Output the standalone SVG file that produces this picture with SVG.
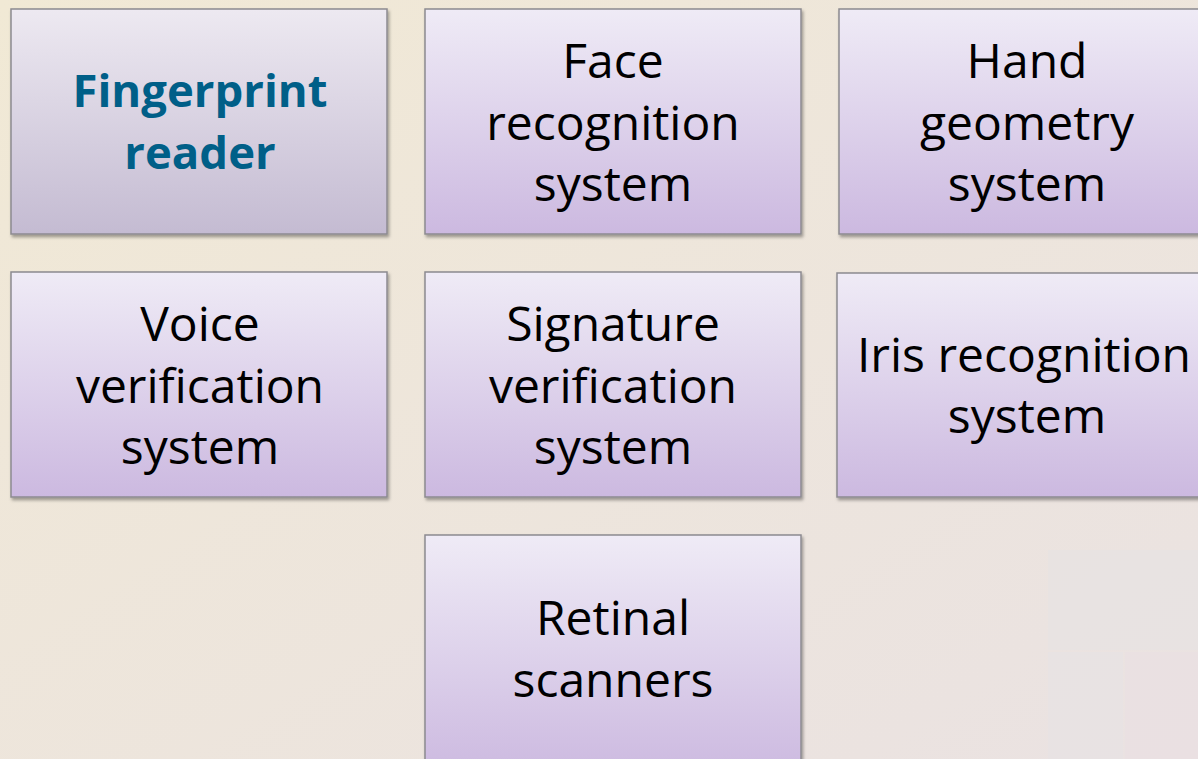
<svg xmlns="http://www.w3.org/2000/svg" width="1198" height="759" viewBox="0 0 1198 759">
<defs>
<linearGradient id="bg" x1="0" y1="0" x2="1" y2="1">
<stop offset="0" stop-color="#F1E9D5"/>
<stop offset="1" stop-color="#EAE2E2"/>
</linearGradient>
<linearGradient id="box" x1="0" y1="0" x2="0" y2="1">
<stop offset="0" stop-color="#EFEBF6"/>
<stop offset="1" stop-color="#CCB9E0"/>
</linearGradient>
<linearGradient id="box1" x1="0" y1="0" x2="0" y2="1">
<stop offset="0" stop-color="#EDE9F1"/>
<stop offset="1" stop-color="#C4BBD2"/>
</linearGradient>
<filter id="sh" x="-5%" y="-5%" width="112%" height="115%">
<feDropShadow dx="1.5" dy="2.5" stdDeviation="1.5" flood-color="#000" flood-opacity="0.35"/>
</filter>
</defs>
<style>
.b{fill:url(#box);stroke:#8C8A90;stroke-width:1.5;filter:url(#sh)}
.b1{fill:url(#box1);stroke:#8C8A90;stroke-width:1.5;filter:url(#sh)}
.t{font-family:"Open Sans","Noto Sans",sans-serif;font-size:48px;fill:#000;text-anchor:middle}
.tb{font-family:"Open Sans","Noto Sans",sans-serif;font-size:45.5px;font-weight:bold;fill:#005F88;text-anchor:middle}
</style>
<rect width="1198" height="759" fill="url(#bg)"/>
<rect x="1048" y="550" width="150" height="100" fill="#E6E2E2" opacity="0.6"/>
<rect x="1048" y="652" width="75" height="107" fill="#E6E2E4" opacity="0.6"/>
<rect x="1125" y="652" width="73" height="107" fill="#EADFE3" opacity="0.6"/>
<g id="n1"><rect class="b1" x="11" y="9" width="376" height="225"/><text class="tb" x="200" y="107">Fingerprint</text><text class="tb" x="200" y="169">reader</text></g>
<g id="n2"><rect class="b" x="425" y="9" width="376" height="225"/><text class="t" x="613" y="78">Face</text><text class="t" x="613" y="140">recognition</text><text class="t" x="613" y="201">system</text></g>
<g id="n3"><rect class="b" x="839" y="9" width="376" height="225"/><text class="t" x="1027" y="78">Hand</text><text class="t" x="1027" y="140">geometry</text><text class="t" x="1027" y="201">system</text></g>
<g id="n4"><rect class="b" x="11" y="272" width="376" height="225"/><text class="t" x="200" y="341">Voice</text><text class="t" x="200" y="403">verification</text><text class="t" x="200" y="464">system</text></g>
<g id="n5"><rect class="b" x="425" y="272" width="376" height="225"/><text class="t" x="613" y="341">Signature</text><text class="t" x="613" y="403">verification</text><text class="t" x="613" y="464">system</text></g>
<g id="n6"><rect class="b" x="837" y="273" width="376" height="224"/><text class="t" x="1024" y="372">Iris recognition</text><text class="t" x="1027" y="433">system</text></g>
<g id="n7"><rect class="b" x="425" y="535" width="376" height="240"/><text class="t" x="613" y="635">Retinal</text><text class="t" x="613" y="697">scanners</text></g>
<g id="connectors"></g>
</svg>
